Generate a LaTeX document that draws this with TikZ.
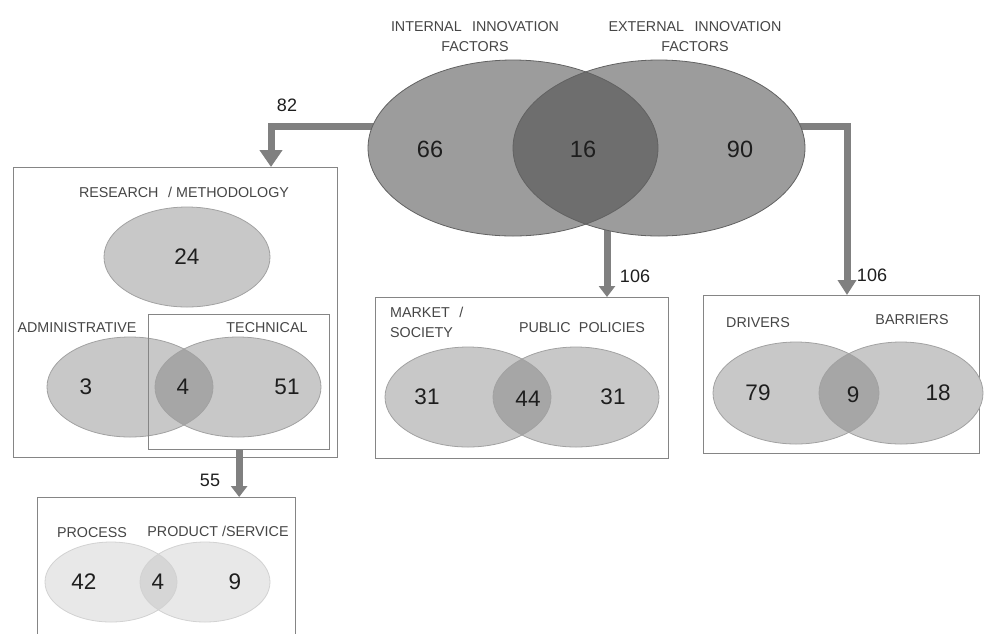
\documentclass[tikz,border=0pt]{standalone}
\usepackage{fontspec}
\setmainfont{Liberation Sans}
\usetikzlibrary{shapes.geometric,arrows.meta}
\definecolor{bigfill}{HTML}{9C9C9C}
\definecolor{bigdark}{HTML}{6E6E6E}
\definecolor{bigline}{HTML}{626262}
\definecolor{midfill}{HTML}{C8C8C8}
\definecolor{middark}{HTML}{A6A6A6}
\definecolor{midline}{HTML}{A2A2A2}
\definecolor{lowfill}{HTML}{E8E8E8}
\definecolor{lowdark}{HTML}{D6D6D6}
\definecolor{lowline}{HTML}{D2D2D2}
\definecolor{arrowgray}{HTML}{808080}
\definecolor{boxline}{HTML}{858585}
\definecolor{txt}{HTML}{454545}
\definecolor{numtxt}{HTML}{1E1E1E}
\tikzset{
  lbl/.style={font=\fontsize{14.3}{20}\selectfont, text=txt, inner sep=0pt},
  num/.style={font=\fontsize{22.5}{24}\selectfont, text=numtxt, inner sep=0pt},
  numbig/.style={font=\fontsize{23.5}{25}\selectfont, text=numtxt, inner sep=0pt},
  flowlbl/.style={font=\fontsize{18}{20}\selectfont, text=numtxt},
  frame/.style={draw=boxline, line width=1.3pt, anchor=north west, inner sep=0pt},
  flow/.style={draw=arrowgray, line width=7pt, -{Triangle[width=22pt,length=17pt]}},
  flowsm/.style={draw=arrowgray, line width=7pt, -{Triangle[width=16pt,length=11pt]}},
  ell/.style={ellipse, inner sep=0pt},
}
\begin{document}
\begin{tikzpicture}[x=1pt,y=-1pt]
\useasboundingbox (0,0) rectangle (984,633);
\clip (0,0) rectangle (984,633);
\fill[white] (0,0) rectangle (984,633);

% ---------- boxes ----------
\node[frame, minimum width=324pt, minimum height=290pt] (boxA) at (13,167) {};
\node[frame, minimum width=181pt, minimum height=135pt] (tech) at (148,314) {};
\node[frame, minimum width=258pt, minimum height=170pt] (boxB) at (37,497) {};
\node[frame, minimum width=293pt, minimum height=161pt] (boxC) at (375,297) {};
\node[frame, minimum width=276pt, minimum height=158pt] (boxD) at (703,295) {};

% ---------- arrow end points ----------
\coordinate (s82) at (390,126);
\coordinate (t82) at (271,167);
\coordinate (sM) at (607,200);
\coordinate (tM) at (607,297);
\coordinate (sR) at (770,126);
\coordinate (tR) at (847,295);

% ---------- arrows (behind ellipses) ----------
\draw[flow] (s82) -| (t82);
\draw[flowsm] (sM) -- (tM);
\draw[flow, -{Triangle[width=18pt,length=15pt]}] (sR) -| (tR);
\draw[flowsm] (tech.south) -- (boxB.north -| tech.south);

\node[flowlbl] (l82) at (287,105) {82};
\node[flowlbl] (l106a) at (635,276) {106};
\node[flowlbl] (l106b) at (872,275) {106};
\node[flowlbl] (l55) at (210,480) {55};

% ---------- top Venn ----------
\fill[bigfill] (513,148) ellipse [x radius=145pt, y radius=88pt];
\fill[bigfill] (659,148) ellipse [x radius=146pt, y radius=88pt];
\begin{scope}
  \clip (513,148) ellipse [x radius=145pt, y radius=88pt];
  \fill[bigdark] (659,148) ellipse [x radius=146pt, y radius=88pt];
\end{scope}
\node[ell, draw=bigline, line width=0.8pt, minimum width=290pt, minimum height=176pt] (intL) at (513,148) {};
\node[ell, draw=bigline, line width=0.8pt, minimum width=292pt, minimum height=176pt] (extR) at (659,148) {};
\node[lbl, align=center] (tIn) at (475,37) {INTERNAL\hspace{0.45em} INNOVATION\\FACTORS};
\node[lbl, align=center] (tEx) at (695,37) {EXTERNAL\hspace{0.45em} INNOVATION\\FACTORS};
\node[numbig] (n66) at (430,149) {66};
\node[numbig] (n16) at (583,149) {16};
\node[numbig] (n90) at (740,149) {90};

% ---------- box A: research / administrative / technical ----------
\node[lbl] (tRes) at (184,192) {RESEARCH\hspace{0.4em} / METHODOLOGY};
\node[ell, fill=midfill, draw=midline, line width=0.8pt, minimum width=166pt, minimum height=100pt] (res) at (187,257) {};
\node[num] (n24) at (187,257) {24};

\node[lbl] (tAdm) at (77,328) {ADMINISTRATIVE};
\node[lbl] (tTec) at (267,328) {TECHNICAL};
\fill[midfill] (130,387) ellipse [x radius=83pt, y radius=50pt];
\fill[midfill] (238,387) ellipse [x radius=83pt, y radius=50pt];
\begin{scope}
  \clip (130,387) ellipse [x radius=83pt, y radius=50pt];
  \fill[middark] (238,387) ellipse [x radius=83pt, y radius=50pt];
\end{scope}
\node[ell, draw=midline, line width=0.8pt, minimum width=166pt, minimum height=100pt] (adm) at (130,387) {};
\node[ell, draw=midline, line width=0.8pt, minimum width=166pt, minimum height=100pt] (tec) at (238,387) {};
\node[num] (n3) at (86,387) {3};
\node[num] (n4a) at (183,387) {4};
\node[num] (n51) at (287,387) {51};
% redraw technical frame on top
\node[frame, minimum width=181pt, minimum height=135pt] (techtop) at (148,314) {};

% ---------- box B: process / product ----------
\node[lbl] (tPro) at (92,533) {PROCESS};
\node[lbl] (tPrd) at (218,531) {PRODUCT /SERVICE};
\fill[lowfill] (111,582) ellipse [x radius=66pt, y radius=40pt];
\fill[lowfill] (205,582) ellipse [x radius=65pt, y radius=40pt];
\begin{scope}
  \clip (111,582) ellipse [x radius=66pt, y radius=40pt];
  \fill[lowdark] (205,582) ellipse [x radius=65pt, y radius=40pt];
\end{scope}
\node[ell, draw=lowline, line width=0.8pt, minimum width=132pt, minimum height=80pt] (proc) at (111,582) {};
\node[ell, draw=lowline, line width=0.8pt, minimum width=130pt, minimum height=80pt] (prod) at (205,582) {};
\node[num] (n42) at (84,582) {42};
\node[num] (n4b) at (158,582) {4};
\node[num] (n9a) at (235,582) {9};

% ---------- box C: market / public policies ----------
\node[lbl, align=left, anchor=west] (tMar) at (390,322) {MARKET\hspace{0.4em} /\\SOCIETY};
\node[lbl] (tPub) at (582,328) {PUBLIC\hspace{0.3em} POLICIES};
\fill[midfill] (468,397) ellipse [x radius=83pt, y radius=50pt];
\fill[midfill] (576,397) ellipse [x radius=83pt, y radius=50pt];
\begin{scope}
  \clip (468,397) ellipse [x radius=83pt, y radius=50pt];
  \fill[middark] (576,397) ellipse [x radius=83pt, y radius=50pt];
\end{scope}
\node[ell, draw=midline, line width=0.8pt, minimum width=166pt, minimum height=100pt] (mar) at (468,397) {};
\node[ell, draw=midline, line width=0.8pt, minimum width=166pt, minimum height=100pt] (pub) at (576,397) {};
\node[num] (n31a) at (427,397) {31};
\node[num] (n44) at (528,399) {44};
\node[num] (n31b) at (613,397) {31};

% ---------- box D: drivers / barriers ----------
\node[lbl] (tDri) at (758,323) {DRIVERS};
\node[lbl] (tBar) at (912,320) {BARRIERS};
\fill[midfill] (796,393) ellipse [x radius=83pt, y radius=51pt];
\fill[midfill] (901,393) ellipse [x radius=82pt, y radius=51pt];
\begin{scope}
  \clip (796,393) ellipse [x radius=83pt, y radius=51pt];
  \fill[middark] (901,393) ellipse [x radius=82pt, y radius=51pt];
\end{scope}
\node[ell, draw=midline, line width=0.8pt, minimum width=166pt, minimum height=102pt] (dri) at (796,393) {};
\node[ell, draw=midline, line width=0.8pt, minimum width=164pt, minimum height=102pt] (bar) at (901,393) {};
\node[num] (n79) at (758,393) {79};
\node[num] (n9b) at (853,395) {9};
\node[num] (n18) at (938,393) {18};
\end{tikzpicture}
\end{document}
